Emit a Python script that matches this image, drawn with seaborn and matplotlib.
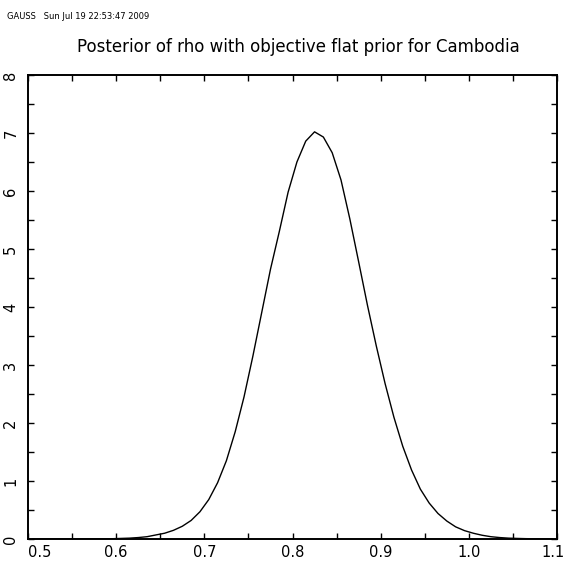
import matplotlib
matplotlib.use('Agg')
import matplotlib.pyplot as plt
from matplotlib.ticker import MultipleLocator
from matplotlib.transforms import ScaledTranslation
import seaborn as sns
import pandas as pd

# posterior density of rho
rho = [0.505, 0.595, 0.605, 0.615, 0.625, 0.635, 0.645, 0.655, 0.665, 0.675,
       0.685, 0.695, 0.705, 0.715, 0.725, 0.735, 0.745, 0.755, 0.765, 0.775,
       0.785, 0.795, 0.805, 0.815, 0.825, 0.835, 0.845, 0.855, 0.865, 0.875,
       0.885, 0.895, 0.905, 0.915, 0.925, 0.935, 0.945, 0.955, 0.965, 0.975,
       0.985, 0.995, 1.005, 1.015, 1.025, 1.035, 1.045, 1.055, 1.065, 1.075,
       1.085, 1.095]
density = [0.0, 0.005, 0.01, 0.015, 0.025, 0.04, 0.07, 0.10, 0.15, 0.22,
           0.32, 0.47, 0.68, 0.97, 1.35, 1.85, 2.45, 3.15, 3.90, 4.65,
           5.30, 5.98, 6.50, 6.86, 7.02, 6.93, 6.66, 6.19, 5.52, 4.78,
           4.03, 3.33, 2.68, 2.10, 1.60, 1.19, 0.86, 0.62, 0.44, 0.31,
           0.21, 0.145, 0.10, 0.065, 0.04, 0.025, 0.015, 0.01, 0.006, 0.004,
           0.002, 0.001]

x_ticks = [0.5, 0.6, 0.7, 0.8, 0.9, 1.0, 1.1]
x_labels = ['0.5', '0.6', '0.7', '0.8', '0.9', '1.0', '1.1']
y_ticks = [0, 1, 2, 3, 4, 5, 6, 7, 8]

title = 'Posterior of rho with objective flat prior for Cambodia'
header = 'GAUSS   Sun Jul 19 22:53:47 2009'

df = pd.DataFrame({'rho': rho, 'density': density})

sns.set_theme(style='white')
plt.rcParams['font.family'] = ['DejaVu Sans']

fig = plt.figure(figsize=(5.67, 5.63), dpi=100)
ax = fig.add_axes([0.0494, 0.0426, 0.933, 0.8242])

sns.lineplot(data=df, x='rho', y='density', color='black', linewidth=1.0, ax=ax)

ax.set_xlim(0.5, 1.1)
ax.set_ylim(0, 8)
ax.set_xticks(x_ticks)
ax.set_xticklabels(x_labels)
ax.set_yticks(y_ticks)
ax.xaxis.set_minor_locator(MultipleLocator(0.05))
ax.yaxis.set_minor_locator(MultipleLocator(0.5))
ax.set_xlabel('')
ax.set_ylabel('')

ax.tick_params(which='both', direction='in', top=True, right=True,
               bottom=True, left=True, length=4, width=1, color='black')
ax.tick_params(axis='x', labelsize=10.5, pad=4, labelcolor='black')
ax.tick_params(axis='y', labelsize=10.5, pad=7, labelcolor='black')
for lab in ax.get_yticklabels():
    lab.set_rotation(90)
    lab.set_va('center')
ax.get_xticklabels()[0].set_ha('left')
last = ax.get_xticklabels()[-1]
last.set_ha('right')
last.set_transform(last.get_transform() + ScaledTranslation(8 / 100, 0, fig.dpi_scale_trans))

for sp in ax.spines.values():
    sp.set_color('black')
    sp.set_linewidth(1.4)

fig.text(0.526, 0.917, title, ha='center', va='center', fontsize=12,
         color='black')
fig.text(0.012, 0.970, header, ha='left', va='center', fontsize=6,
         color='black')

plt.savefig('out.png', dpi=100)
